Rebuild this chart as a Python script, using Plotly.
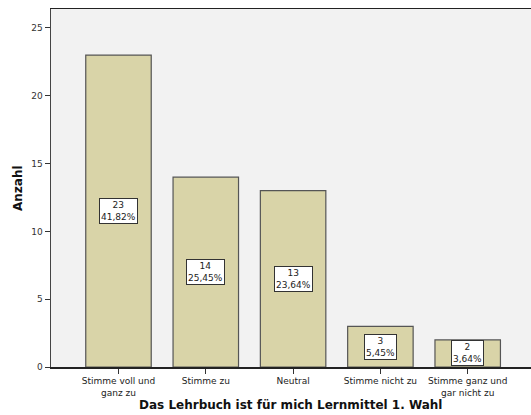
import plotly.graph_objects as go

categories = ["Stimme voll und<br>ganz zu", "Stimme zu", "Neutral", "Stimme nicht zu", "Stimme ganz und<br>gar nicht zu"]
counts = [23, 14, 13, 3, 2]
percents = ["41,82%", "25,45%", "23,64%", "5,45%", "3,64%"]
x_title = "Das Lehrbuch ist für mich Lernmittel 1. Wahl"
y_title = "Anzahl"

fig = go.Figure()
fig.add_trace(go.Bar(
    x=list(range(len(categories))), y=counts, width=0.75,
    marker=dict(color="#D9D4A8", line=dict(color="#555555", width=1.2)),
    hoverinfo="skip",
))

for i, (c, p) in enumerate(zip(counts, percents)):
    fig.add_annotation(
        x=i, y=c / 2, text=f"{c}<br>{p}", showarrow=False,
        font=dict(family="DejaVu Sans", size=9, color="#222222"),
        bgcolor="white", bordercolor="#333333", borderwidth=1, borderpad=1,
    )

fig.add_annotation(
    x=0.5, xref="paper", y=0, yref="paper", yshift=-38, yanchor="middle",
    text=f"<b>{x_title}</b>", showarrow=False,
    font=dict(family="DejaVu Sans", size=12, color="#111111"),
)
fig.add_annotation(
    x=0, xref="paper", y=0.5, yref="paper", xshift=-33, xanchor="center",
    text=f"<b>{y_title}</b>", showarrow=False, textangle=-90,
    font=dict(family="DejaVu Sans", size=12, color="#111111"),
)

fig.update_layout(
    width=531, height=415,
    margin=dict(l=51, r=0, t=9, b=48),
    paper_bgcolor="white", plot_bgcolor="#F2F2F2",
    showlegend=False,
    font=dict(family="DejaVu Sans", size=9, color="#333333"),
    bargap=0.25,
)
fig.update_xaxes(
    range=[-0.773, 4.725], tickmode="array", tickvals=list(range(len(categories))),
    ticktext=categories, ticks="outside", ticklen=5, tickcolor="#333333",
    showline=True, linecolor="#222222", linewidth=1.5, mirror=True,
    showgrid=False, zeroline=False, automargin=False,
    tickfont=dict(family="DejaVu Sans", size=9, color="#222222"),
)
fig.update_yaxes(
    range=[0, 26.4], tickvals=[0, 5, 10, 15, 20, 25], ticks="outside", ticklen=5,
    tickcolor="#333333", showline=True, linecolor="#444444", linewidth=1.5,
    showgrid=False, zeroline=False, automargin=False,
    tickfont=dict(family="DejaVu Sans", size=9, color="#333333"),
)

fig.write_html(
    "out.html",
    config={"displayModeBar": False, "staticPlot": True},
    post_script="document.body.style.margin='0';document.body.style.overflow='hidden';",
)
